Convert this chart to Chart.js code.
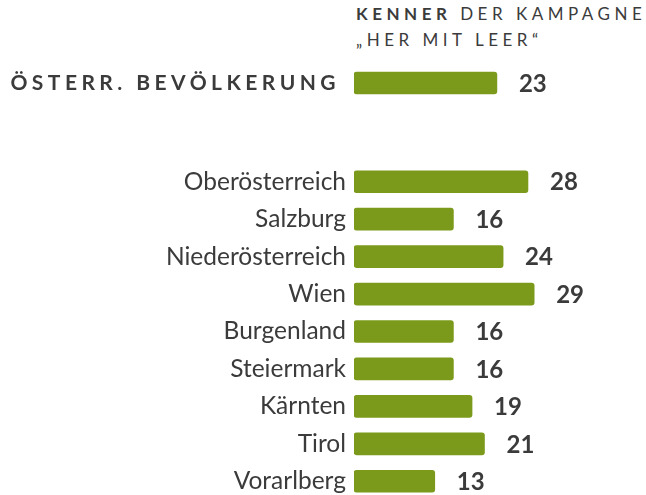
<!DOCTYPE html>
<html>
<head>
<meta charset="utf-8">
<script src="https://cdn.jsdelivr.net/npm/chart.js@4"></script>
<style>
  html, body { margin: 0; padding: 0; background: #fff; overflow: hidden; }
  body { width: 646px; height: 495px; position: relative; font-family: Lato, sans-serif; color: #3b3b3b; }
  .head { position: absolute; left: 356px; top: 1px; font-size: 17px; letter-spacing: 4.5px; line-height: 26px; white-space: nowrap; }
  .head b { font-weight: 700; }
  #totalBox { position: absolute; left: 0; top: 43px; width: 646px; height: 80px; }
  #regionBox { position: absolute; left: 0; top: 163px; width: 646px; height: 337px; }
</style>
</head>
<body>
<div class="head"><b>KENNER</b> DER KAMPAGNE<br>„HER MIT LEER“</div>
<div id="totalBox"><canvas id="totalChart"></canvas></div>
<div id="regionBox"><canvas id="regionChart"></canvas></div>
<script>
const totalLabels = ['ÖSTERR. BEVÖLKERUNG'];
const totalValues = [23];

const regions = ['Oberösterreich', 'Salzburg', 'Niederösterreich', 'Wien', 'Burgenland',
                 'Steiermark', 'Kärnten', 'Tirol', 'Vorarlberg'];
const regionValues = [28, 16, 24, 29, 16, 16, 19, 21, 13];

const green = '#7b9a1b';
const textColor = '#3b3b3b';

// value next to the end of each bar
const valueLabels = {
    id: 'valueLabels',
    afterDatasetsDraw(chart) {
        const ctx = chart.ctx;
        const meta = chart.getDatasetMeta(0);
        ctx.save();
        ctx.letterSpacing = '0px';
        ctx.font = 'bold 24px Lato';
        ctx.fillStyle = textColor;
        ctx.textAlign = 'left';
        ctx.textBaseline = 'middle';
        meta.data.forEach((bar, i) => {
            ctx.fillText(chart.data.datasets[0].data[i], bar.x + 22, bar.y + 1);
        });
        ctx.restore();
    }
};

// spaced capitals for the total row
const spacedTicks = {
    id: 'spacedTicks',
    beforeDraw(chart, args, opts) {
        chart.ctx.letterSpacing = opts.spacing || '0px';
    },
    afterDraw(chart) {
        chart.ctx.letterSpacing = '0px';
    }
};

function makeChart(canvasId, labels, values, tickFont, spacing, tickPad) {
    const ctx = document.getElementById(canvasId).getContext('2d');
    return new Chart(ctx, {
        type: 'bar',
        data: {
            labels: labels,
            datasets: [{
                data: values,
                backgroundColor: green,
                borderRadius: 3,
                borderSkipped: false,
                barThickness: 22
            }]
        },
        options: {
            indexAxis: 'y',
            responsive: true,
            maintainAspectRatio: false,
            animation: false,
            layout: { padding: 0 },
            plugins: {
                legend: { display: false },
                tooltip: { enabled: false },
                spacedTicks: { spacing: spacing }
            },
            scales: {
                x: {
                    display: false,
                    min: 0,
                    max: 47
                },
                y: {
                    grid: { display: false, drawTicks: false },
                    border: { display: false },
                    ticks: {
                        color: textColor,
                        font: tickFont,
                        padding: tickPad
                    },
                    afterFit(scale) {
                        scale.width = 354;
                        scale.paddingTop = 0;
                        scale.paddingBottom = 0;
                    }
                }
            }
        },
        plugins: [valueLabels, spacedTicks]
    });
}

makeChart('totalChart', totalLabels, totalValues, { family: 'Lato', size: 21, weight: 'bold' }, '4.45px', 14);
makeChart('regionChart', regions, regionValues, { family: 'Lato', size: 24.5 }, '0px', 8);
</script>
</body>
</html>
